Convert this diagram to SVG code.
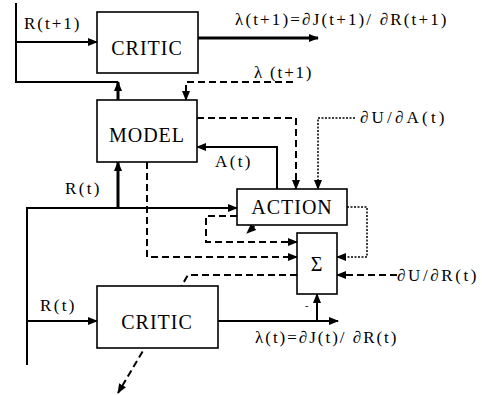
<svg xmlns="http://www.w3.org/2000/svg" width="482" height="395" viewBox="0 0 482 395">
<style>
.box{fill:#fff;stroke:#000;stroke-width:1.6}
text{font-family:'Liberation Serif','DejaVu Serif','Times New Roman',serif;fill:#000}
.bt{font-size:20px;text-anchor:middle;letter-spacing:1px}
.lb{font-size:17px;letter-spacing:0.5px}
.s{fill:none;stroke:#000;stroke-width:2}
.t{fill:none;stroke:#000;stroke-width:3}
.d{fill:none;stroke:#000;stroke-width:2;stroke-dasharray:7,4}
.o{fill:none;stroke:#000;stroke-width:1.5;stroke-dasharray:2,1.5}
</style>
<defs>
<marker id="a" markerUnits="userSpaceOnUse" markerWidth="10" markerHeight="8" refX="9" refY="4" orient="auto"><path d="M0,0 L10,4 L0,8 z" fill="#000"/></marker>
</defs>
<rect width="482" height="395" fill="#fff"/>
<g id="connectors">
<path class="s" d="M16,3 V83 M16,82 H118"/>
<path class="s" d="M16,42 H97" marker-end="url(#a)"/>
<path class="t" d="M118,100 V82" marker-end="url(#a)"/>
<path class="t" d="M198,38 H318" marker-end="url(#a)"/>
<path class="d" d="M293,82 H186 V100" marker-end="url(#a)"/>
<path class="d" d="M197,118 H296 V189" marker-end="url(#a)"/>
<path class="d" d="M295,189 L247,233" marker-end="url(#a)"/>
<path class="o" d="M355,118 H318 V189" marker-end="url(#a)"/>
<path class="s" d="M277,189 V147 H197" marker-end="url(#a)"/>
<path class="s" d="M27,365 V208 H237" marker-end="url(#a)"/>
<path class="t" d="M118,208 V162" marker-end="url(#a)"/>
<path class="s" d="M27,321 H97" marker-end="url(#a)"/>
<path class="d" d="M237,216 H206 V242 H297" marker-end="url(#a)"/>
<path class="d" d="M147,162 V257 H297" marker-end="url(#a)"/>
<path class="d" d="M297,275 H188 L118,393" marker-end="url(#a)"/>
<path class="o" d="M347,207 H367 V257 H337" marker-end="url(#a)"/>
<path class="d" d="M397,275 H337" marker-end="url(#a)"/>
<path class="s" d="M218,321 H338" marker-end="url(#a)"/>
<path class="s" d="M317,321 V294" marker-end="url(#a)"/>
</g>
<g id="critic-top">
<rect class="box" x="97" y="12" width="101" height="61"/>
<text class="bt" x="147" y="55" font-family="Liberation Serif, serif">CRITIC</text>
</g>
<g id="model">
<rect class="box" x="97" y="100" width="100" height="62"/>
<text class="bt" x="147" y="142" font-family="Liberation Serif, serif">MODEL</text>
</g>
<g id="action">
<rect class="box" x="237" y="189" width="110" height="36"/>
<text class="bt" x="292" y="214" font-family="Liberation Serif, serif">ACTION</text>
</g>
<g id="sum">
<rect class="box" x="297" y="233" width="40" height="61"/>
<text class="bt" x="317" y="271" font-family="Liberation Serif, serif">Σ</text>
</g>
<g id="critic-bottom">
<rect class="box" x="97" y="286" width="121" height="62"/>
<text class="bt" x="157" y="329" font-family="Liberation Serif, serif">CRITIC</text>
</g>
<g id="labels" font-family="Liberation Serif, serif">
<text class="lb" x="24" y="29" textLength="56" lengthAdjust="spacing">R(t+1)</text>
<text class="lb" x="235" y="25" textLength="212" lengthAdjust="spacing">λ(t+1)=∂J(t+1)/ ∂R(t+1)</text>
<text class="lb" x="254" y="78" textLength="58" lengthAdjust="spacing">λ (t+1)</text>
<text class="lb" x="360" y="123" textLength="85" lengthAdjust="spacing">∂U/∂A(t)</text>
<text class="lb" x="215" y="167" textLength="36" lengthAdjust="spacing">A(t)</text>
<text class="lb" x="65" y="194" textLength="35" lengthAdjust="spacing">R(t)</text>
<text class="lb" x="40" y="311" textLength="35" lengthAdjust="spacing">R(t)</text>
<text class="lb" x="397" y="281" textLength="80" lengthAdjust="spacing">∂U/∂R(t)</text>
<text class="lb" x="255" y="343" textLength="142" lengthAdjust="spacing">λ(t)=∂J(t)/ ∂R(t)</text>
<text class="lb" x="305" y="309" style="font-size:10px">-</text>
</g>
</svg>
